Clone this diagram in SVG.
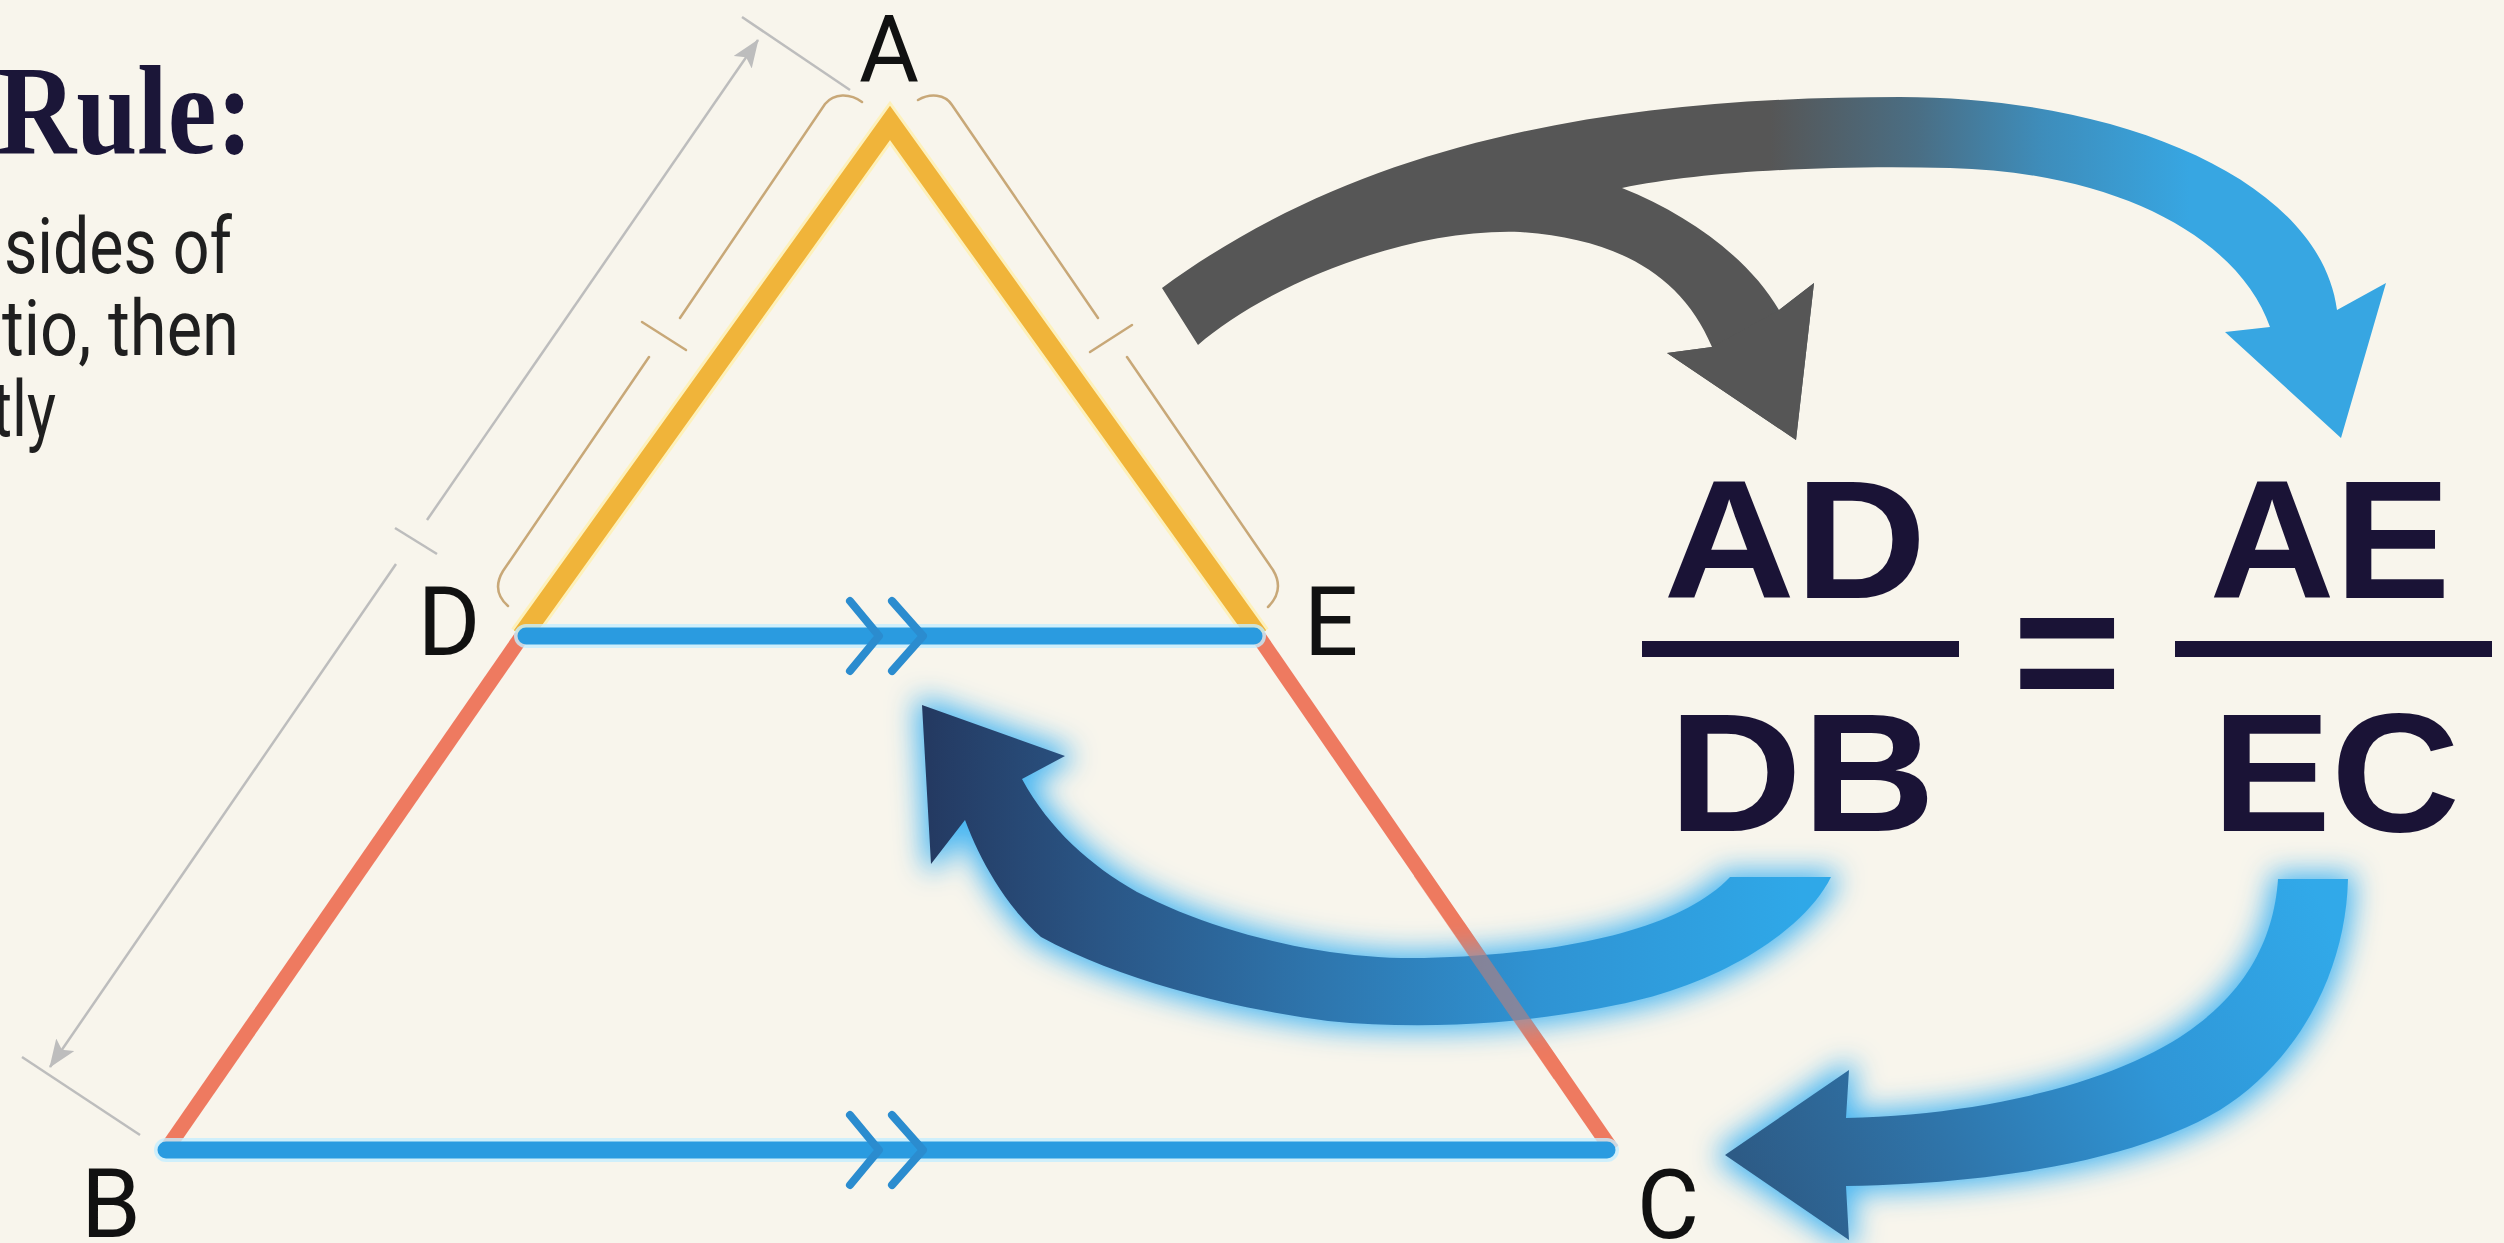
<svg xmlns="http://www.w3.org/2000/svg" width="2504" height="1243" viewBox="0 0 2504 1243">
<defs>
<style>
.lbl{font-family:Roboto,"Liberation Sans",sans-serif;font-size:96px;fill:#111111;text-anchor:middle}
.eq{font-family:"Liberation Sans",Arial,sans-serif;font-weight:bold;font-size:168px;fill:#1A1336;text-anchor:middle}
.body{font-family:Roboto,"Liberation Sans",sans-serif;font-size:78px;fill:#1F1F1F}
.ttl{font-family:"Liberation Serif","Times New Roman",serif;font-weight:bold;font-size:128px;fill:#1B1638}
.dim{stroke:#BDBDBD;stroke-width:2.5;fill:none}
.brk{stroke:#C8A878;stroke-width:2.5;fill:none;stroke-linecap:round}
.yel{stroke:#F0B43A;stroke-width:20;fill:none;stroke-linejoin:miter}
.yelh{stroke:#FFF0A8;stroke-width:26;fill:none;stroke-linejoin:miter;opacity:0.7}
.red{stroke:#EE7A60;stroke-width:15;fill:none}
.blu{stroke:#2A9BE0;stroke-width:17;fill:none;stroke-linecap:round}
.bluh{stroke:#C4EEFF;stroke-width:24;fill:none;stroke-linecap:round;opacity:0.8}
.chev{stroke:#2B8CCF;stroke-width:8;fill:none;stroke-linecap:round;stroke-linejoin:round}
.bar{fill:#1A1336}
</style>
<marker id="ah" viewBox="0 0 28 22" refX="27" refY="11" markerWidth="28" markerHeight="22" markerUnits="userSpaceOnUse" orient="auto">
<path d="M0,0 L28,11 L0,22 L6,11 Z" fill="#BDBDBD"/>
</marker>
<linearGradient id="gTop" gradientUnits="userSpaceOnUse" x1="1770" y1="0" x2="2190" y2="0">
<stop offset="0" stop-color="#565656"/>
<stop offset="0.35" stop-color="#4A6E84"/>
<stop offset="0.65" stop-color="#3E8DBB"/>
<stop offset="1" stop-color="#37A6E2"/>
</linearGradient>
<linearGradient id="gLeft" gradientUnits="userSpaceOnUse" x1="1800" y1="0" x2="930" y2="0">
<stop offset="0" stop-color="#2FA8E8"/>
<stop offset="0.3" stop-color="#2F93D3"/>
<stop offset="0.55" stop-color="#2E76AE"/>
<stop offset="0.8" stop-color="#2A5686"/>
<stop offset="1" stop-color="#243A62"/>
</linearGradient>
<linearGradient id="gRight" gradientUnits="userSpaceOnUse" x1="2320" y1="900" x2="1740" y2="1160">
<stop offset="0" stop-color="#31A9E9"/>
<stop offset="0.35" stop-color="#2F96D7"/>
<stop offset="0.7" stop-color="#2F74A9"/>
<stop offset="1" stop-color="#2D5B86"/>
</linearGradient>
<filter id="glow" x="-20%" y="-25%" width="140%" height="150%" color-interpolation-filters="sRGB">
<feMorphology in="SourceAlpha" operator="dilate" radius="6" result="d"/>
<feGaussianBlur in="d" stdDeviation="14" result="b"/>
<feFlood flood-color="#3DB2F2" flood-opacity="0.95" result="c"/>
<feComposite in="c" in2="b" operator="in" result="g"/>
<feMerge><feMergeNode in="g"/><feMergeNode in="SourceGraphic"/></feMerge>
</filter>
</defs>

<rect x="0" y="0" width="2504" height="1243" fill="#F8F5EC"/>

<g id="title">
<text class="ttl" x="-3" y="153" textLength="256" lengthAdjust="spacingAndGlyphs">Rule:</text>
<text class="body" x="4" y="273" textLength="228" lengthAdjust="spacingAndGlyphs">sides of</text>
<text class="body" x="2" y="355" textLength="237" lengthAdjust="spacingAndGlyphs">tio, then</text>
<text class="body" x="-8" y="436" textLength="64" lengthAdjust="spacingAndGlyphs">tly</text>
</g>

<g id="dimension-AB">
<path class="dim" d="M742,17 L850,90"/>
<path class="dim" d="M22,1057 L140,1135"/>
<path class="dim" d="M427,520 L758,40" marker-end="url(#ah)"/>
<path class="dim" d="M396,564 L50,1067" marker-end="url(#ah)"/>
<path class="dim" d="M395,528 L437,554"/>
</g>

<g id="bracket-AD">
<path class="brk" d="M862,102 C850,93 834,93 825,104 L680,318"/>
<path class="brk" d="M642,322 L686,350"/>
<path class="brk" d="M649,357 L503,571 Q491,591 508,606"/>
</g>
<g id="bracket-AE">
<path class="brk" d="M918,100 C930,93 945,94 952,105 L1098,318"/>
<path class="brk" d="M1090,352 L1132,325"/>
<path class="brk" d="M1127,357 L1273,570 Q1285,590 1268,607"/>
</g>

<g id="triangle">
<path class="yelh" d="M522,636 L890,123 L1258,636"/>
<path class="yel" d="M522,636 L890,123 L1258,636"/>
<path class="red" d="M522,636 L166,1150"/>
<path class="red" d="M1258,636 L1612,1150"/>
<path class="bluh" d="M526,636 L1254,636"/>
<path class="bluh" d="M166,1150 L1607,1150"/>
<path class="blu" d="M526,636 L1254,636"/>
<path class="blu" d="M166,1150 L1607,1150"/>
<path class="chev" d="M850,601 L879,636 L850,671 M892,601 L923,636 L892,671"/>
<path class="chev" d="M850,1115 L879,1150 L850,1185 M892,1115 L923,1150 L892,1185"/>
</g>

<g id="connectors">
<g id="arrow-top">
<path d="M1162,288 C1370,135 1630,97 1900,97 C2120,97 2320,180 2337,310 L2386,283 L2341,438 L2225,332 L2270,327 C2240,240 2120,172 1950,168 C1820,165 1700,172 1622,188 C1690,215 1750,260 1779,310 L1814,283 L1796,440 L1667,353 L1712,347 C1680,270 1610,238 1520,232 C1400,228 1260,290 1198,345 Z" fill="url(#gTop)"/>
<path d="M1779,310 L1814,283 L1796,440 L1667,353 L1712,347 Z" fill="#565656"/>
</g>
<g id="arrow-DB" filter="url(#glow)">
<path d="M1730,877 L1831,877 C1805,930 1720,985 1616,1005 C1520,1025 1420,1030 1328,1021 C1230,1008 1120,980 1041,937 C1005,905 980,860 965,820 L931,864 L922,705 L1065,756 L1022,779 C1050,830 1090,865 1137,892 C1220,935 1330,960 1424,958 C1560,955 1680,930 1730,877 Z" fill="url(#gLeft)"/>
</g>
<g id="arrow-EC" filter="url(#glow)">
<path d="M2278,879 L2348,879 C2346,970 2300,1060 2220,1110 C2140,1158 2000,1184 1846,1186 L1849,1240 L1725,1155 L1849,1070 L1846,1118 C1980,1115 2100,1085 2172,1042 C2245,998 2274,940 2278,879 Z" fill="url(#gRight)"/>
</g>
</g>

<g id="side-EC-overlay">
<path d="M1420,872 L1560,1075" stroke="#EE7A60" stroke-width="15" opacity="0.45" fill="none"/>
</g>

<g id="labels">
<text class="lbl" x="889" y="81" style="font-size:92px">A</text>
<text class="lbl" x="449" y="655">D</text>
<text class="lbl" x="1331" y="655">E</text>
<text class="lbl" x="111" y="1237">B</text>
<text class="lbl" x="1668" y="1238">C</text>
</g>

<g id="equation">
<text class="eq" x="1795" y="598" textLength="263" lengthAdjust="spacingAndGlyphs">AD</text>
<rect class="bar" x="1642" y="641" width="317" height="16"/>
<text class="eq" x="1802" y="831" textLength="267" lengthAdjust="spacingAndGlyphs">DB</text>
<text class="eq" x="2067" y="716" style="font-size:187px">=</text>
<text class="eq" x="2330" y="598" textLength="241" lengthAdjust="spacingAndGlyphs">AE</text>
<rect class="bar" x="2175" y="641" width="317" height="16"/>
<text class="eq" x="2336" y="831" textLength="248" lengthAdjust="spacingAndGlyphs">EC</text>
</g>
</svg>
